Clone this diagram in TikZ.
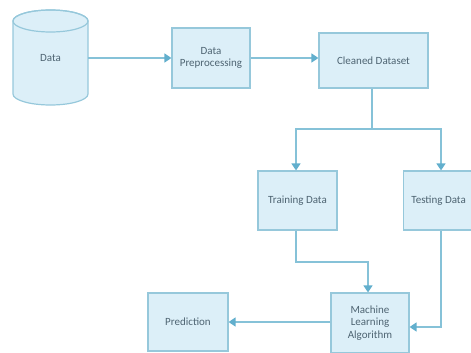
\documentclass[tikz,border=0pt]{standalone}
\usepackage{fontspec}
\setmainfont{Carlito}
\usetikzlibrary{arrows.meta,positioning}
\definecolor{boxfill}{HTML}{DCEFF8}
\definecolor{boxline}{HTML}{96C8DB}
\definecolor{connc}{HTML}{86C2D8}
\definecolor{tip}{HTML}{62AFCD}
\definecolor{txt}{HTML}{4E6472}
\begin{document}
\begin{tikzpicture}[x=1pt,y=-1pt,
  box/.style={draw=boxline,line width=1.2pt,fill=boxfill,inner sep=1pt,
    text=txt,font=\fontsize{11}{12.5}\selectfont,align=center},
  line/.style={draw=connc,line width=1.5pt},
  conn/.style={line,-{Triangle[length=7pt,width=9pt,color=tip]}}]
\useasboundingbox (0,0) rectangle (471,353);
% cylinder
\filldraw[draw=boxline,line width=1.2pt,fill=boxfill]
  (13,21) -- (13,94) arc (180:0:37.5 and 11) -- (88,21) arc (0:-180:37.5 and 11) -- cycle;
\draw[boxline,line width=1.2pt] (50.5,21) ellipse (37.5 and 11);
\node[text=txt,font=\fontsize{11}{12.5}\selectfont,minimum width=75pt,minimum height=50pt] (data) at (50.5,58) {Data};
% boxes
\node[box,minimum width=78pt,minimum height=60pt] (prep) at (211,58) {Data\\Preprocessing};
\node[box,minimum width=109pt,minimum height=55pt] (clean) at (373.5,60.5) {Cleaned Dataset};
\node[box,minimum width=79pt,minimum height=59pt] (train) at (297.5,200.5) {Training Data};
\node[box,minimum width=70pt,minimum height=59pt,anchor=west] (test) at (403,200.5) {Testing Data};
\node[box,minimum width=78pt,minimum height=60pt] (ml) at (370,323) {Machine\\Learning\\Algorithm};
\node[box,minimum width=80pt,minimum height=58pt] (pred) at (188,322) {Prediction};
% connectors
\draw[conn] (data.east) -- (prep.west);
\draw[conn] (prep.east) -- (prep.east -| clean.west);
\coordinate (cs) at (372,0);
\coordinate (split) at (cs |- 0,129);
\coordinate (tr) at (296,0);
\coordinate (te) at (441,0);
\coordinate (mlin) at (368,0);
\draw[line] (clean.south -| cs) -- (split);
\draw[conn] (split) -| (train.north -| tr);
\draw[conn] (split) -| (test.north -| te);
\draw[conn] (train.south -| tr) |- (mlin |- 0,262) -- (ml.north -| mlin);
\draw[conn] (test.south -| te) |- (ml.east |- 0,327);
\draw[conn] (ml.west |- 0,322) -- (pred.east |- 0,322);
\end{tikzpicture}
\end{document}
